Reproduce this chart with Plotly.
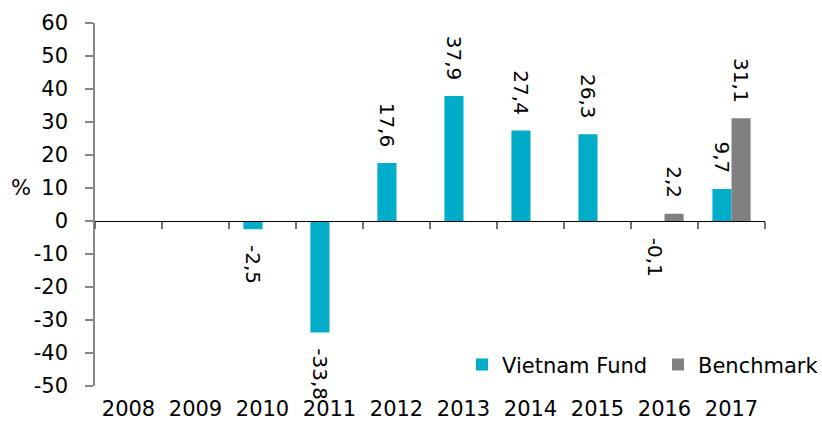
import plotly.graph_objects as go

years = ["2008", "2009", "2010", "2011", "2012", "2013", "2014", "2015", "2016", "2017"]
fund = [None, None, -2.5, -33.8, 17.6, 37.9, 27.4, 26.3, -0.1, 9.7]
bench = [None, None, None, None, None, None, None, None, 2.2, 31.1]
y_ticks = [60, 50, 40, 30, 20, 10, 0, -10, -20, -30, -40, -50]
y_ticktext = [str(v) for v in y_ticks]

FONT = "DejaVu Sans"
FS = 21
teal = "#00ACC8"
gray = "#808080"
PAD = "\u00a0\u00a0"

def lab(vals):
    out = []
    for v in vals:
        if v is None:
            out.append("")
            continue
        s = f"{v:.1f}".replace(".", ",")
        out.append(s + PAD if v >= 0 else PAD + s)
    return out

fig = go.Figure()
fig.add_trace(go.Bar(x=years, y=fund, name="Vietnam Fund", marker=dict(color=teal, line=dict(width=0)),
                     text=lab(fund), textposition="outside", textangle=90, cliponaxis=False,
                     constraintext="none", legend="legend",
                     textfont=dict(family=FONT, size=20, color="black")))
fig.add_trace(go.Bar(x=years, y=bench, name="Benchmark", marker=dict(color=gray, line=dict(width=0)),
                     text=lab(bench), textposition="outside", textangle=90, cliponaxis=False,
                     constraintext="none", legend="legend2",
                     textfont=dict(family=FONT, size=20, color="black")))
# invisible trace to carry the zero-line axis
fig.add_trace(go.Scatter(x=years, y=[0]*len(years), xaxis="x2", mode="none", showlegend=False, hoverinfo="skip"))

leg_common = dict(orientation="h", y=0.058, yanchor="middle", xanchor="left",
                  font=dict(family=FONT, size=FS), bgcolor="rgba(0,0,0,0)", itemwidth=30)

fig.update_layout(
    width=822, height=428,
    margin=dict(l=95, r=57, t=23, b=42, autoexpand=False),
    plot_bgcolor="white", paper_bgcolor="white",
    barmode="group", bargap=0.43, bargroupgap=0,
    font=dict(family=FONT, size=FS, color="black"),
    xaxis=dict(type="category", showline=False, ticks="", showgrid=False, zeroline=False,
               tickfont=dict(family=FONT, size=FS), anchor="free", position=0, ticklabelstandoff=8),
    xaxis2=dict(type="category", overlaying="x", matches="x", anchor="free", position=50/110,
                showline=True, linecolor="black", linewidth=1.2, ticks="outside", ticklen=7,
                tickcolor="#707070", tickwidth=1.5, tickson="boundaries", showticklabels=False,
                showgrid=False, zeroline=False),
    yaxis=dict(range=[-50, 60], tickvals=y_ticks, ticktext=y_ticktext, showgrid=False, zeroline=False,
               showline=True, linecolor="#868686", linewidth=1.5, ticks="outside", ticklen=8,
               tickcolor="#868686", tickwidth=1.5, tickfont=dict(family=FONT, size=FS),
               ticklabelstandoff=13),
    legend=dict(x=(462 - 95) / 670, **leg_common),
    legend2=dict(x=(658 - 95) / 670, **leg_common),
    showlegend=True,
)
fig.add_annotation(text="%", xref="paper", yref="y", x=-0.11, y=10, showarrow=False,
                   xanchor="center", yanchor="middle", font=dict(family=FONT, size=FS))
fig.write_html("out.html")
